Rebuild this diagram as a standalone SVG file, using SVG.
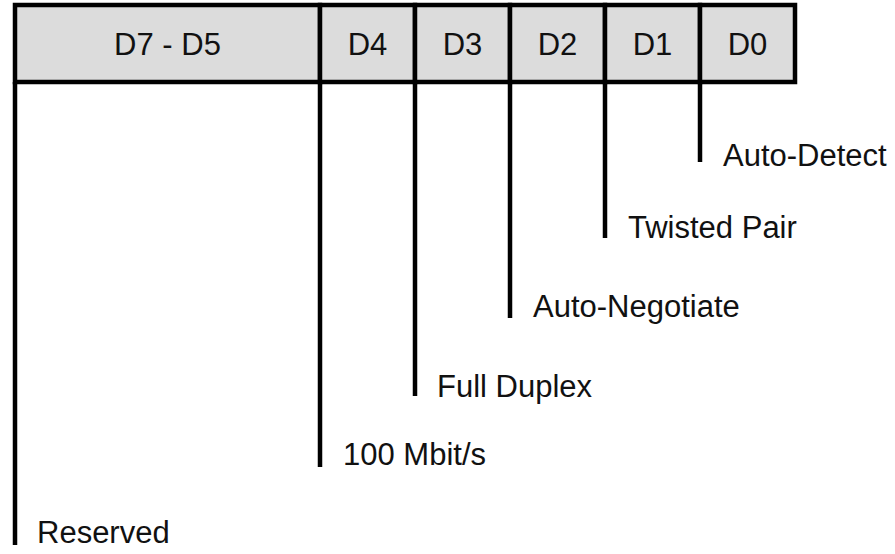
<svg xmlns="http://www.w3.org/2000/svg" width="895" height="554" viewBox="0 0 895 554">
  <style>
    .cell { fill: #dcdcdc; stroke: #000; stroke-width: 4.5; }
    .lead { stroke: #000; stroke-width: 4.5; fill: none; stroke-linecap: butt; }
    .hdr { font-family: "Liberation Sans", Arial, sans-serif; font-size: 31px; fill: #111; text-anchor: middle; }
    .lbl { font-family: "Liberation Sans", Arial, sans-serif; font-size: 31px; fill: #111; }
  </style>
  <rect width="895" height="554" fill="#fff"/>

  <!-- register bit fields -->
  <g id="field-d7-d5"><rect class="cell" x="15" y="5" width="305" height="77"/><text class="hdr" x="167.5" y="55">D7 - D5</text></g>
  <g id="field-d4"><rect class="cell" x="320" y="5" width="95" height="77"/><text class="hdr" x="367.5" y="55">D4</text></g>
  <g id="field-d3"><rect class="cell" x="415" y="5" width="95" height="77"/><text class="hdr" x="462.5" y="55">D3</text></g>
  <g id="field-d2"><rect class="cell" x="510" y="5" width="95" height="77"/><text class="hdr" x="557.5" y="55">D2</text></g>
  <g id="field-d1"><rect class="cell" x="605" y="5" width="95" height="77"/><text class="hdr" x="652.5" y="55">D1</text></g>
  <g id="field-d0"><rect class="cell" x="700" y="5" width="95" height="77"/><text class="hdr" x="747.5" y="55">D0</text></g>

  <!-- leader lines from each field down to its description -->
  <g id="connectors">
    <line class="lead" x1="15" y1="82" x2="15" y2="545"/>
    <line class="lead" x1="320" y1="82" x2="320" y2="467"/>
    <line class="lead" x1="415" y1="82" x2="415" y2="396"/>
    <line class="lead" x1="510" y1="82" x2="510" y2="318"/>
    <line class="lead" x1="605" y1="82" x2="605" y2="238"/>
    <line class="lead" x1="700" y1="82" x2="700" y2="162"/>
  </g>

  <!-- descriptions -->
  <g id="label-reserved"><text class="lbl" x="37" y="543">Reserved</text></g>
  <g id="label-100mbit"><text class="lbl" x="343" y="465">100 Mbit/s</text></g>
  <g id="label-full-duplex"><text class="lbl" x="437" y="397">Full Duplex</text></g>
  <g id="label-auto-negotiate"><text class="lbl" x="533" y="317">Auto-Negotiate</text></g>
  <g id="label-twisted-pair"><text class="lbl" x="628" y="238">Twisted Pair</text></g>
  <g id="label-auto-detect"><text class="lbl" x="723" y="166">Auto-Detect</text></g>
</svg>
